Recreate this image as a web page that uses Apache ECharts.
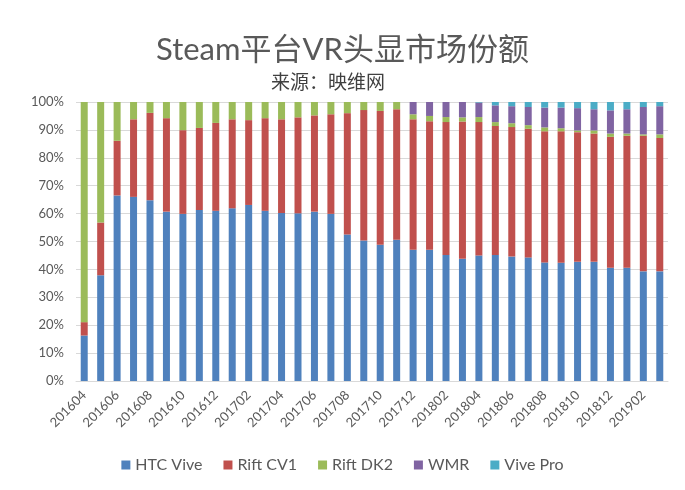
<!DOCTYPE html>
<html>
<head>
<meta charset="utf-8">
<script src="https://cdn.jsdelivr.net/npm/echarts@6/dist/echarts.min.js"></script>
<style>html,body{margin:0;padding:0;background:#fff;}#c{width:685px;height:490px;}</style>
</head>
<body>
<div id="c"></div>
<script>
const categories = ['201604','201605','201606','201607','201608','201609','201610','201611','201612',
  '201701','201702','201703','201704','201705','201706','201707','201708','201709','201710','201711','201712',
  '201801','201802','201803','201804','201805','201806','201807','201808','201809','201810','201811','201812',
  '201901','201902','201903'];
const htcVive = [16.3,37.9,66.5,66.0,64.8,60.7,59.9,61.3,61.0,61.9,63.1,61.0,60.2,60.1,60.7,59.9,52.5,50.4,48.8,50.6,47.0,
  47.0,45.2,43.8,45.0,45.2,44.6,44.3,42.5,42.4,42.7,42.7,40.6,40.6,39.3,39.3];
const riftCV1 = [4.8,18.9,19.6,27.8,31.3,33.5,30.0,29.4,31.5,31.9,30.4,33.2,33.6,34.4,34.5,35.7,43.5,46.7,48.0,46.8,46.8,
  46.1,47.6,49.2,47.8,46.2,46.4,46.1,47.0,47.1,46.5,46.0,46.9,47.3,48.6,47.8];
const riftDK2 = [78.9,43.2,13.9,6.2,3.9,5.8,10.1,9.3,7.5,6.2,6.5,5.8,6.2,5.5,4.8,4.4,4.0,2.9,3.2,2.6,1.8,
  1.9,1.8,1.5,1.8,1.4,1.4,1.3,1.4,1.1,0.6,1.1,1.2,0.8,0.5,1.3];
const wmr = [0,0,0,0,0,0,0,0,0,0,0,0,0,0,0,0,0,0,0,0,4.4,
  5.0,5.4,5.5,5.2,6.0,6.1,6.5,7.1,7.4,8.0,7.6,8.3,8.7,9.8,10.1];
const vivePro = [0,0,0,0,0,0,0,0,0,0,0,0,0,0,0,0,0,0,0,0,0,
  0,0,0,0.2,1.2,1.5,1.8,2.0,2.0,2.2,2.6,3.0,2.6,1.8,1.5];
const seriesNames = ['HTC Vive','Rift CV1','Rift DK2','WMR','Vive Pro'];
const seriesData = [htcVive, riftCV1, riftDK2, wmr, vivePro];
const colors = ['#4F81BD','#C0504D','#9BBB59','#8064A2','#4BACC6'];
const yTicks = [0,10,20,30,40,50,60,70,80,90,100];

const FONT = 'Lato, "Noto Sans CJK SC", sans-serif';
const chart = echarts.init(document.getElementById('c'), null, {renderer:'canvas'});
chart.setOption({
  animation: false,
  color: colors,
  textStyle: {fontFamily: FONT},
  title: [{
    text: 'Steam平台VR头显市场份额',
    left: 'center', top: 30,
    textStyle: {fontFamily: FONT, fontSize: 31, fontWeight: 'normal', color: '#595959'}
  },{
    text: '来源：映维网',
    left: 266, top: 68,
    textStyle: {fontFamily: FONT, fontSize: 19, fontWeight: 'normal', color: '#404040'}
  }],
  legend: {
    bottom: 12, left: 'center',
    icon: 'rect', itemWidth: 9, itemHeight: 9, itemGap: 21,
    textStyle: {fontFamily: FONT, fontSize: 16, color: '#595959'},
    data: seriesNames
  },
  grid: {left: 76, right: 17, top: 102, bottom: 109, containLabel: false},
  xAxis: {
    type: 'category', data: categories,
    axisLine: {lineStyle: {color: '#d9d9d9'}},
    axisTick: {show: false},
    axisLabel: {interval: 1, rotate: 45, fontSize: 13, color: '#595959', fontFamily: FONT, margin: 12}
  },
  yAxis: {
    type: 'value', min: yTicks[0], max: yTicks[yTicks.length-1], interval: 10,
    axisLine: {show: false}, axisTick: {show: false},
    splitLine: {lineStyle: {color: '#d9d9d9'}},
    axisLabel: {formatter: '{value}%', fontSize: 13, color: '#595959', fontFamily: FONT, margin: 12}
  },
  series: seriesNames.map((n, i) => ({
    name: n, type: 'bar', stack: 'total', barWidth: 7,
    data: seriesData[i],
    itemStyle: {color: colors[i]}
  }))
});
</script>
</body>
</html>
